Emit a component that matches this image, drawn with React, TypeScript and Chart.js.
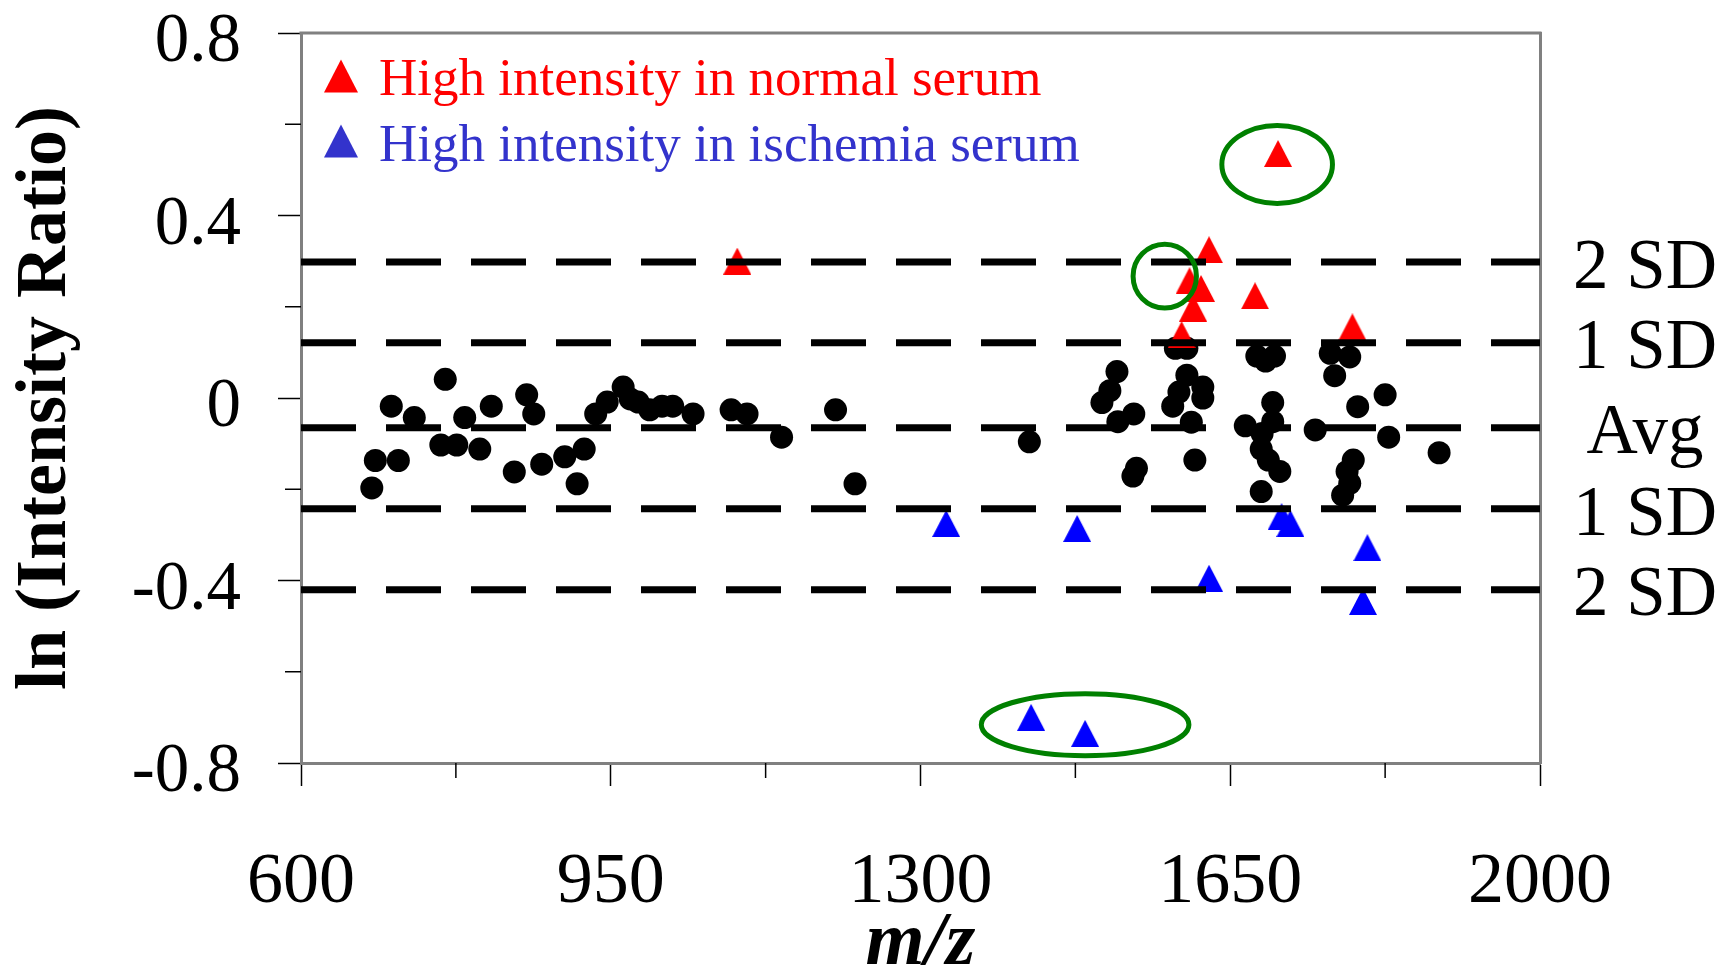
import React, { useEffect, useRef } from 'react';
import { Chart, registerables } from 'chart.js';

Chart.register(...registerables);

// ---- data ----
const xTicks = [600, 950, 1300, 1650, 2000];
const xMinorTicks = [775, 1125, 1475, 1825];
const yTicks = [-0.8, -0.4, 0, 0.4, 0.8];
const yMinorTicks = [-0.6, -0.2, 0.2, 0.6];

const sdValues = [0.298, 0.121, -0.065, -0.243, -0.42];
const sdLabels = ['2 SD', '1 SD', 'Avg', '1 SD', '2 SD'];

const blackMz = [680, 684, 710, 702, 728, 763, 758, 776, 785, 802, 815, 841, 855, 863, 872, 898, 920, 912, 933, 946,
  964, 972, 981, 994, 1008, 1020, 1043, 1086, 1104, 1143, 1204, 1226, 1423, 1522, 1514, 1505, 1523, 1541, 1544, 1540,
  1588, 1601, 1601, 1619, 1592, 1619, 1585, 1606, 1610, 1680, 1690, 1700, 1698, 1698, 1667, 1686, 1685, 1693, 1706, 1685,
  1746, 1763, 1785, 1768, 1794, 1825, 1829, 1789, 1782, 1785, 1777, 1886];
const blackRatio = [-0.197, -0.137, -0.137, -0.018, -0.043, 0.041, -0.103, -0.103, -0.043, -0.112,
  -0.018, -0.162, 0.007, -0.035, -0.145, -0.129, -0.112, -0.188, -0.035, -0.009,
  0.024, -0.002, -0.009, -0.026, -0.018, -0.018, -0.035, -0.026, -0.035, -0.086,
  -0.026, -0.188, -0.096, 0.058, 0.016, -0.010, -0.052, -0.035, -0.154, -0.171,
  0.109, 0.109, 0.050, 0.024, 0.013, 0.000, -0.018, -0.053, -0.136, 0.092,
  0.081, 0.092, -0.010, -0.052, -0.061, -0.078, -0.112, -0.136, -0.161, -0.205,
  -0.070, 0.098, 0.090, 0.049, -0.019, 0.007, -0.086, -0.136, -0.161, -0.187, -0.213, -0.120];

const redMz = [1093, 1626, 1604, 1617, 1608, 1595, 1678, 1788, 1704];
const redRatio = [0.300, 0.325, 0.257, 0.240, 0.197, 0.139, 0.224, 0.156, 0.536];

const blueMz = [1329, 1477, 1626, 1708, 1718, 1805, 1800, 1425, 1486];
const blueRatio = [-0.275, -0.286, -0.395, -0.260, -0.275, -0.328, -0.446, -0.700, -0.735];

const legendLabels = ['High intensity in normal serum', 'High intensity in ischemia serum'];

const ellipseMz = [1703, 1576, 1486];
const ellipseRatio = [0.512, 0.267, -0.716];
const ellipseMzRadius = [62.5, 35.8, 117.3];
const ellipseRatioRadius = [0.0855, 0.07, 0.068];

// ---- styles ----
const FONT = '"Liberation Serif", "Times New Roman", serif';
const RED = '#ff0000';
const BLUE = '#0000ff';
const LEGEND_COLORS = ['#ff0000', '#3333cc'];
const FRAME = '#808080';

function makeTriangle(color: string, w: number, h: number) {
  const c = document.createElement('canvas');
  c.width = w;
  c.height = h;
  const ctx = c.getContext('2d')!;
  ctx.fillStyle = color;
  ctx.beginPath();
  ctx.moveTo(w / 2, 0);
  ctx.lineTo(w, h);
  ctx.lineTo(0, h);
  ctx.closePath();
  ctx.fill();
  return c;
}

const overlayPlugin = {
  id: 'overlay',
  afterDatasetsDraw(chart: any) {
    const { ctx, scales } = chart;
    const xs = scales.x;
    const ys = scales.y;
    ctx.save();
    ctx.strokeStyle = '#008000';
    ctx.lineWidth = 5;
    for (let i = 0; i < ellipseMz.length; i++) {
      const cx = xs.getPixelForValue(ellipseMz[i]);
      const cy = ys.getPixelForValue(ellipseRatio[i]);
      const rx = Math.abs(xs.getPixelForValue(ellipseMz[i] + ellipseMzRadius[i]) - cx);
      const ry = Math.abs(ys.getPixelForValue(ellipseRatio[i] + ellipseRatioRadius[i]) - cy);
      ctx.beginPath();
      ctx.ellipse(cx, cy, rx, ry, 0, 0, Math.PI * 2);
      ctx.stroke();
    }
    ctx.restore();
  },
  afterDraw(chart: any) {
    const { ctx, chartArea, scales } = chart;
    const { left, right, top, bottom } = chartArea;
    ctx.save();
    // top frame
    ctx.strokeStyle = FRAME;
    ctx.lineWidth = 3;
    ctx.beginPath();
    ctx.moveTo(left - 1.5, top);
    ctx.lineTo(right + 1.5, top);
    ctx.stroke();
    // minor ticks
    ctx.strokeStyle = '#000';
    ctx.lineWidth = 1.5;
    xMinorTicks.forEach((v) => {
      const px = scales.x.getPixelForValue(v);
      ctx.beginPath();
      ctx.moveTo(px, bottom);
      ctx.lineTo(px, bottom + 15);
      ctx.stroke();
    });
    yMinorTicks.forEach((v) => {
      const py = scales.y.getPixelForValue(v);
      ctx.beginPath();
      ctx.moveTo(left - 16, py);
      ctx.lineTo(left, py);
      ctx.stroke();
    });
    // legend
    ctx.font = `53px ${FONT}`;
    ctx.textAlign = 'left';
    ctx.textBaseline = 'alphabetic';
    legendLabels.forEach((label, i) => {
      const cx = left + 40;
      const cy = top + 43 + i * 65;
      ctx.fillStyle = LEGEND_COLORS[i];
      ctx.beginPath();
      ctx.moveTo(cx, cy - 16.5);
      ctx.lineTo(cx + 17, cy + 16.5);
      ctx.lineTo(cx - 17, cy + 16.5);
      ctx.closePath();
      ctx.fill();
      ctx.fillText(label, left + 78, top + 62 + i * 65.5);
    });
    ctx.restore();
  },
};

export default function App() {
  const ref = useRef<HTMLCanvasElement>(null);

  useEffect(() => {
    const canvas = ref.current;
    if (!canvas) return;
    Chart.defaults.font.family = FONT;
    Chart.defaults.color = '#000';

    const redTri = makeTriangle(RED, 28, 27);
    const blueTri = makeTriangle(BLUE, 28, 27);

    const sdDatasets = sdValues.map((v) => ({
      type: 'line' as const,
      data: [{ x: xTicks[0], y: v }, { x: xTicks[xTicks.length - 1], y: v }],
      borderColor: '#000',
      borderWidth: 7,
      borderDash: [55, 30],
      borderCapStyle: 'butt' as const,
      pointRadius: 0,
      showLine: true,
      fill: false,
      order: 1,
    }));

    const fitVertical = (w: number) => (s: any) => {
      s.width = w;
      s.paddingTop = 0;
      s.paddingBottom = 0;
    };

    const chart = new Chart(canvas, {
      type: 'scatter',
      data: {
        datasets: [
          {
            label: 'peaks',
            data: blackMz.map((x, i) => ({ x, y: blackRatio[i] })),
            backgroundColor: '#000',
            borderWidth: 0,
            pointRadius: 11.5,
            order: 3,
          },
          {
            label: legendLabels[0],
            data: redMz.map((x, i) => ({ x, y: redRatio[i] })),
            pointStyle: redTri,
            pointRadius: 14,
            backgroundColor: RED,
            order: 2,
          },
          {
            label: legendLabels[1],
            data: blueMz.map((x, i) => ({ x, y: blueRatio[i] })),
            pointStyle: blueTri,
            pointRadius: 14,
            backgroundColor: BLUE,
            order: 2,
          },
          ...sdDatasets,
        ] as any,
      },
      options: {
        animation: false,
        responsive: false,
        events: [],
        layout: { padding: { top: 33, left: 0, right: 0, bottom: 0 } },
        plugins: {
          legend: { display: false },
          tooltip: { enabled: false },
        },
        scales: {
          x: {
            type: 'linear',
            position: 'bottom',
            min: xTicks[0],
            max: xTicks[xTicks.length - 1],
            afterBuildTicks: (s: any) => {
              s.ticks = xTicks.map((v) => ({ value: v }));
            },
            afterFit: (s: any) => {
              s.height = 212;
              s.paddingLeft = 0;
              s.paddingRight = 0;
            },
            ticks: {
              autoSkip: false,
              maxRotation: 0,
              font: { size: 72 },
              color: '#000',
              padding: 54,
              callback: (v: any) => String(v),
            },
            grid: { drawOnChartArea: false, drawTicks: true, tickLength: 23, tickColor: '#000', tickWidth: 1.5 },
            border: { display: true, color: FRAME, width: 3 },
            title: {
              display: true,
              text: 'm/z',
              color: '#000',
              font: { size: 76, weight: 'bold', style: 'italic', lineHeight: 0.8 },
              padding: { top: 0, bottom: 0 },
            },
          },
          y: {
            type: 'linear',
            position: 'left',
            min: yTicks[0],
            max: yTicks[yTicks.length - 1],
            afterBuildTicks: (s: any) => {
              s.ticks = yTicks.map((v) => ({ value: v }));
            },
            afterFit: fitVertical(301),
            ticks: {
              autoSkip: false,
              font: { size: 69 },
              color: '#000',
              padding: 37,
              labelOffset: 10,
              callback: (v: any) => String(Number(Number(v).toFixed(1))),
            },
            grid: { drawOnChartArea: false, drawTicks: true, tickLength: 23, tickColor: '#000', tickWidth: 1.5 },
            border: { display: true, color: FRAME, width: 3 },
            title: {
              display: true,
              text: 'ln (Intensity Ratio)',
              color: '#000',
              font: { size: 72, weight: 'bold' },
              padding: { top: 3, bottom: 0 },
            },
          },
          y2: {
            type: 'linear',
            position: 'right',
            min: yTicks[0],
            max: yTicks[yTicks.length - 1],
            afterBuildTicks: (s: any) => {
              s.ticks = sdValues.map((v) => ({ value: v }));
            },
            afterFit: fitVertical(189),
            ticks: {
              autoSkip: false,
              font: { size: 71 },
              color: '#000',
              padding: 33,
              crossAlign: 'center',
              labelOffset: 7,
              callback: (v: any) => {
                const i = sdValues.findIndex((s) => Math.abs(s - Number(v)) < 1e-6);
                return i >= 0 ? sdLabels[i] : '';
              },
            },
            grid: { display: false, drawTicks: false },
            border: { display: true, color: FRAME, width: 3 },
          },
        },
      } as any,
      plugins: [overlayPlugin],
    });

    return () => chart.destroy();
  }, []);

  return (
    <div style={{ position: 'absolute', left: 0, top: 0, width: 1729, height: 975, background: '#fff' }}>
      <canvas ref={ref} width={1729} height={975} style={{ display: 'block' }} />
    </div>
  );
}
